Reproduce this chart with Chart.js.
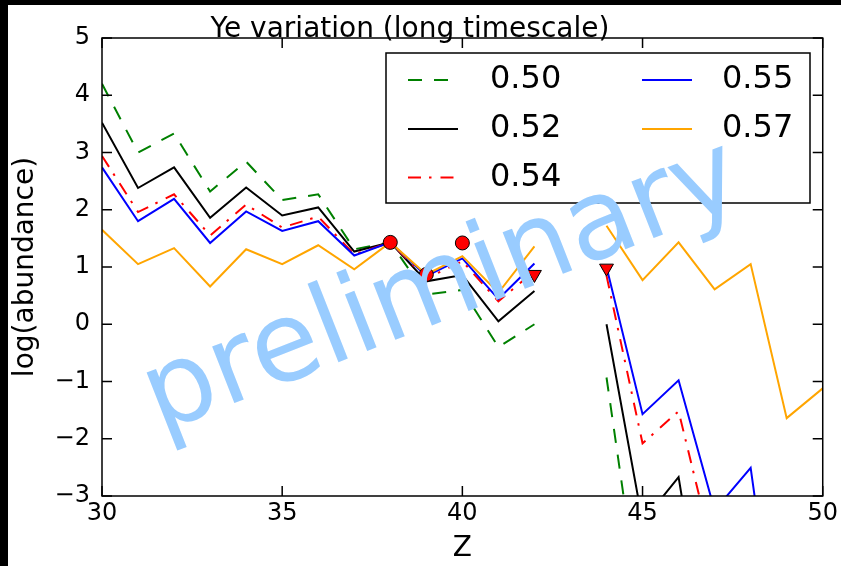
<!DOCTYPE html>
<html>
<head>
<meta charset="utf-8">
<script src="https://cdn.jsdelivr.net/npm/chart.js@4.4.1/dist/chart.umd.min.js"></script>
<style>
  html, body { margin: 0; padding: 0; background: #000; }
  #wrap { width: 841px; height: 566px; }
</style>
</head>
<body>
<div id="wrap"><canvas id="chart" width="841" height="566"></canvas></div>
<script>
// Z (proton number) and log(abundance) per Ye value; null = no value (Tc, or not plotted)
var Z      = [30, 31, 32, 33, 34, 35, 36, 37, 38, 39, 40, 41, 42, 43, 44, 45, 46, 47, 48, 49, 50];
var ye050  = [4.2, 3.0, 3.33, 2.32, 2.84, 2.17, 2.27, 1.31, 1.43, 0.52, 0.6, -0.4, 0.0, null, -0.93, -5.3, null, null, null, null, null];
var ye052  = [3.52, 2.38, 2.74, 1.86, 2.39, 1.9, 2.04, 1.27, 1.43, 0.75, 0.86, 0.05, 0.58, null, 0.0, -3.45, -2.67, -6.5, null, null, null];
var ye054  = [2.94, 1.96, 2.27, 1.55, 2.09, 1.69, 1.88, 1.22, 1.43, 0.8, 1.1, 0.4, 0.93, null, 0.85, -2.08, -1.52, -4.1, null, null, null];
var ye055  = [2.74, 1.8, 2.19, 1.42, 1.97, 1.63, 1.8, 1.2, 1.43, 0.84, 1.15, 0.44, 1.06, null, 1.0, -1.57, -0.98, -3.25, -2.51, -7.0, null];
var ye057  = [1.65, 1.05, 1.33, 0.66, 1.31, 1.05, 1.38, 0.96, 1.43, 0.87, 1.19, 0.55, 1.36, null, 1.72, 0.77, 1.43, 0.61, 1.05, -1.64, -1.12];

// observed values (circles) and upper limits (triangles)
var obsZ   = [38, 39, 40];
var obsVal = [1.43, 0.87, 1.42];
var limZ   = [42, 44];
var limVal = [0.87, 0.98];

var seriesLabels = ['0.50', '0.52', '0.54', '0.55', '0.57'];
var titleText = 'Ye variation (long timescale)';
var watermark = 'preliminary';

var FONT = "'DejaVu Sans', sans-serif";

function pts(xs, ys) {
	return xs.map(function (x, i) { return { x: x, y: ys[i] }; });
}

function lineSet(label, ys, color, dash, order) {
	return {
		label: label,
		data: pts(Z, ys),
		borderColor: color,
		backgroundColor: color,
		borderWidth: 2,
		borderDash: dash,
		pointRadius: 0,
		tension: 0,
		spanGaps: false,
		fill: false,
		order: order
	};
}

// background: black slide with the white figure on it
var bgPlugin = {
	id: 'bg',
	beforeDraw: function (chart) {
		var ctx = chart.ctx;
		ctx.save();
		ctx.fillStyle = '#000';
		ctx.fillRect(0, 0, chart.width, chart.height);
		ctx.fillStyle = '#fff';
		ctx.fillRect(8, 5, chart.width - 8, chart.height - 5);
		ctx.restore();
	}
};

// frame, inward ticks, title, legend and watermark
var decoPlugin = {
	id: 'deco',
	afterDraw: function (chart) {
		var ctx = chart.ctx,
		a       = chart.chartArea,
		xs      = chart.scales.x,
		ys      = chart.scales.y,
		tl      = 10;

		ctx.save();
		ctx.strokeStyle = '#000';
		ctx.lineWidth = 1.5;
		ctx.beginPath();
		xs.ticks.forEach(function (t) {
			var px = xs.getPixelForValue(t.value);
			ctx.moveTo(px, a.bottom); ctx.lineTo(px, a.bottom - tl);
			ctx.moveTo(px, a.top); ctx.lineTo(px, a.top + tl);
		});
		ys.ticks.forEach(function (t) {
			var py = ys.getPixelForValue(t.value);
			ctx.moveTo(a.left, py); ctx.lineTo(a.left + tl, py);
			ctx.moveTo(a.right, py); ctx.lineTo(a.right - tl, py);
		});
		ctx.stroke();
		ctx.strokeRect(a.left, a.top, a.right - a.left, a.bottom - a.top);

		// title
		ctx.fillStyle = '#000';
		ctx.font = '28px ' + FONT;
		ctx.textAlign = 'center';
		ctx.textBaseline = 'alphabetic';
		ctx.fillText(titleText, 410, 37);

		// legend, two columns
		var bx = 386, by = 53, bw = 424, bh = 150;
		ctx.fillStyle = '#fff';
		ctx.fillRect(bx, by, bw, bh);
		ctx.lineWidth = 1.5;
		ctx.strokeStyle = '#000';
		ctx.strokeRect(bx, by, bw, bh);
		var rows = [80, 129, 177.5];
		var cols = [{ line: 408, text: 490 }, { line: 642, text: 722 }];
		ctx.font = '32px ' + FONT;
		ctx.textAlign = 'left';
		ctx.textBaseline = 'middle';
		var n = 0;
		chart.data.datasets.forEach(function (ds) {
			if (seriesLabels.indexOf(ds.label) < 0) return;
			var col = cols[Math.floor(n / 3)], row = rows[n % 3];
			ctx.strokeStyle = ds.borderColor;
			ctx.lineWidth = ds.borderWidth;
			ctx.setLineDash(ds.borderDash || []);
			ctx.beginPath();
			ctx.moveTo(col.line, row);
			ctx.lineTo(col.line + 50, row);
			ctx.stroke();
			ctx.setLineDash([]);
			ctx.fillStyle = '#000';
			ctx.fillText(ds.label, col.text, row);
			n++;
		});

		// watermark
		ctx.translate(443, 290);
		ctx.rotate(-21.5 * Math.PI / 180);
		ctx.fillStyle = 'rgb(153, 204, 255)';
		ctx.font = '111px ' + FONT;
		ctx.textAlign = 'center';
		ctx.textBaseline = 'middle';
		ctx.fillText(watermark, 0, 0);
		ctx.restore();
	}
};

var datasets = [
	{
		label: 'obs',
		data: pts(obsZ, obsVal),
		type: 'scatter',
		pointStyle: 'circle',
		pointRadius: 7,
		backgroundColor: '#ff0000',
		borderColor: '#000',
		borderWidth: 1,
		order: 0
	},
	{
		label: 'limit',
		data: pts(limZ, limVal),
		type: 'scatter',
		pointStyle: 'triangle',
		rotation: 180,
		pointRadius: 8,
		backgroundColor: '#ff0000',
		borderColor: '#000',
		borderWidth: 1,
		order: 0
	},
	lineSet(seriesLabels[0], ye050, '#008000', [14, 12], 5),
	lineSet(seriesLabels[1], ye052, '#000000', [], 4),
	lineSet(seriesLabels[2], ye054, '#ff0000', [13, 8, 2.5, 9], 3),
	lineSet(seriesLabels[3], ye055, '#0000ff', [], 2),
	lineSet(seriesLabels[4], ye057, '#ffa500', [], 1)
];

new Chart(document.getElementById('chart').getContext('2d'), {
	type: 'line',
	data: { datasets: datasets },
	options: {
		responsive: false,
		animation: false,
		layout: { padding: { left: 0, top: 38, right: 14, bottom: 0 } },
		plugins: {
			legend: { display: false },
			tooltip: { enabled: false },
			title: { display: false }
		},
		scales: {
			x: {
				type: 'linear',
				min: 30,
				max: 50,
				ticks: { stepSize: 5, padding: 3, color: '#000', font: { family: FONT, size: 24 } },
				grid: { display: false, drawTicks: false },
				border: { display: false },
				title: { display: true, text: 'Z', color: '#000', font: { family: FONT, size: 28 }, padding: { top: 0, bottom: 0 } },
				afterFit: function (s) { s.height = 70; }
			},
			y: {
				type: 'linear',
				min: -3,
				max: 5,
				ticks: {
					stepSize: 1,
					padding: 12,
					color: '#000',
					font: { family: FONT, size: 24 },
					callback: function (v) { return v < 0 ? '\u2212' + Math.abs(v) : String(v); }
				},
				grid: { display: false, drawTicks: false },
				border: { display: false },
				title: { display: true, text: 'log(abundance)', color: '#000', font: { family: FONT, size: 28 }, padding: { top: 9, bottom: 0 } },
				afterFit: function (s) { s.width = 102; }
			}
		}
	},
	plugins: [bgPlugin, decoPlugin]
});
</script>
</body>
</html>
